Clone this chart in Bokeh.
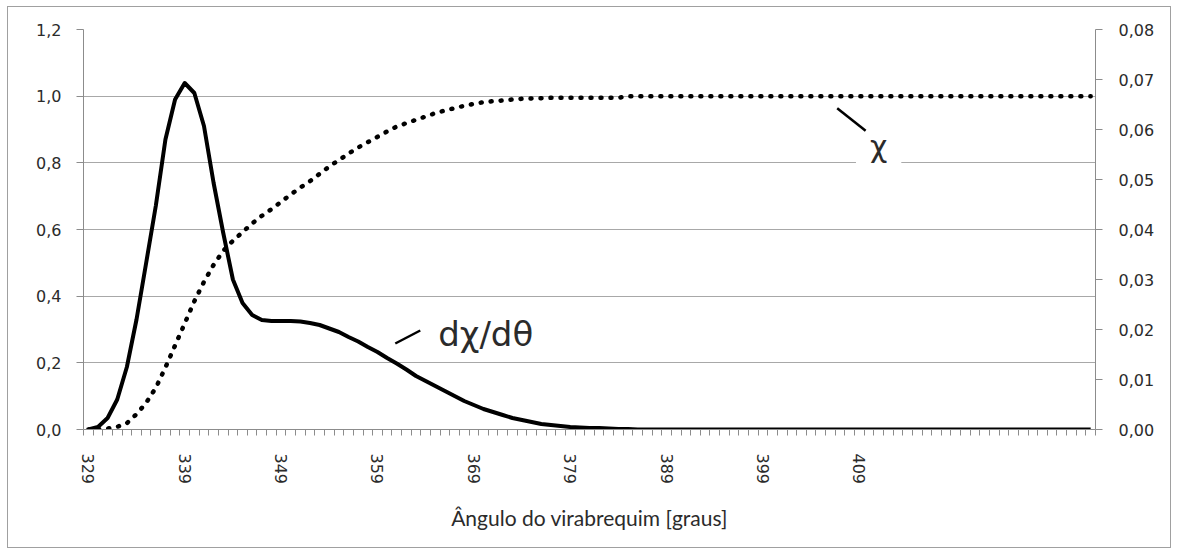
from bokeh.plotting import figure
from bokeh.models import (Range1d, LinearAxis, FixedTicker, CustomJSTickFormatter, Label)
from bokeh.embed import file_html
from bokeh.resources import INLINE

# Crank angle [degrees], one sample per degree
angles = list(range(329, 434))

# Burn rate dchi/dtheta [1/degree] (right axis)
burn_rate = [
    0.0000, 0.0005, 0.0023, 0.0060, 0.0125, 0.0220, 0.0333, 0.0447, 0.0580, 0.0660,
    0.0693, 0.0673, 0.0607, 0.0493, 0.0393, 0.0300, 0.0253, 0.0229, 0.0219, 0.0217,
    0.0217, 0.0217, 0.0216, 0.0213, 0.0209, 0.0202, 0.0195, 0.0185, 0.0176, 0.0165,
    0.0155, 0.0143, 0.0132, 0.0120, 0.0107, 0.0097, 0.0087, 0.0077, 0.0067, 0.0057,
    0.0049, 0.0041, 0.0035, 0.0029, 0.0023, 0.0019, 0.0015, 0.0011, 0.0009, 0.0007,
    0.0005, 0.0004, 0.0003, 0.0003, 0.0002, 0.0001, 0.0001,
] + [0.0] * 48

# Burned mass fraction chi (left axis)
burned_fraction = [
    0.000, 0.000, 0.003, 0.008, 0.019, 0.046, 0.080, 0.125, 0.186, 0.252,
    0.318, 0.385, 0.443, 0.494, 0.536, 0.566, 0.592, 0.618, 0.641, 0.661,
    0.683, 0.705, 0.726, 0.745, 0.767, 0.789, 0.808, 0.828, 0.846, 0.862,
    0.878, 0.894, 0.909, 0.919, 0.929, 0.939, 0.949, 0.957, 0.964, 0.971,
    0.977, 0.982, 0.985, 0.987, 0.990, 0.992, 0.993, 0.994,
] + [0.995] * 8 + [1.000] * 49

# Axis tick values
angle_labels = [329, 339, 349, 359, 369, 379, 389, 399, 409]
fraction_ticks = [0.0, 0.2, 0.4, 0.6, 0.8, 1.0, 1.2]
rate_ticks = [0.00, 0.01, 0.02, 0.03, 0.04, 0.05, 0.06, 0.07, 0.08]

AXIS_GREY = "#8c8c8c"
GRID_GREY = "#a8a8a8"
TEXT = "#2b2b2b"
TICK_FONT = "DejaVu Sans"

p = figure(width=1164, height=542, output_backend="svg", toolbar_location=None,
           x_range=Range1d(angles[0] - 0.5, angles[-1] + 0.5),
           y_range=Range1d(0, 1.2),
           min_border_left=75, min_border_right=77,
           min_border_top=22, min_border_bottom=120)
p.styles = {"border": "1px solid #a0a0a0", "margin-left": "7px", "margin-top": "6px"}
p.outline_line_color = None
p.background_fill_color = "white"
p.border_fill_color = "white"
p.extra_y_ranges = {"rate": Range1d(0, 0.08)}

# x axis: a tick between every degree, labels every ten degrees
xa = p.xaxis[0]
xa.ticker = FixedTicker(ticks=angle_labels,
                        minor_ticks=[a - 0.5 for a in angles] + [angles[-1] + 0.5])
xa.major_tick_out = 0
xa.major_tick_in = 0
xa.minor_tick_out = 6
xa.minor_tick_in = 0
xa.minor_tick_line_color = AXIS_GREY
xa.axis_line_color = AXIS_GREY
xa.major_label_orientation = "vertical"
xa.major_label_standoff = 18
xa.major_label_text_font = TICK_FONT
xa.major_label_text_font_size = "16px"
xa.major_label_text_color = TEXT
xa.axis_label = "Ângulo do virabrequim [graus]"
xa.axis_label_text_font = "Lato"
xa.axis_label_text_font_size = "21px"
xa.axis_label_text_font_style = "normal"
xa.axis_label_text_color = TEXT
xa.axis_label_standoff = 18

# left axis: chi
ya = p.yaxis[0]
ya.ticker = FixedTicker(ticks=fraction_ticks)
ya.formatter = CustomJSTickFormatter(code="return tick.toFixed(1).replace('.', ',')")
ya.major_tick_out = 7
ya.major_tick_in = 0
ya.minor_tick_out = 0
ya.minor_tick_in = 0
ya.major_tick_line_color = AXIS_GREY
ya.axis_line_color = AXIS_GREY
ya.major_label_standoff = 15
ya.major_label_text_font = TICK_FONT
ya.major_label_text_font_size = "16px"
ya.major_label_text_color = TEXT

# right axis: dchi/dtheta
ra = LinearAxis(y_range_name="rate")
ra.ticker = FixedTicker(ticks=rate_ticks)
ra.formatter = CustomJSTickFormatter(code="return tick.toFixed(2).replace('.', ',')")
ra.major_tick_out = 7
ra.major_tick_in = 0
ra.minor_tick_out = 0
ra.minor_tick_in = 0
ra.major_tick_line_color = AXIS_GREY
ra.axis_line_color = AXIS_GREY
ra.major_label_standoff = 16
ra.major_label_text_font = TICK_FONT
ra.major_label_text_font_size = "16px"
ra.major_label_text_color = TEXT
p.add_layout(ra, "right")

p.xgrid.visible = False
p.ygrid.ticker = FixedTicker(ticks=fraction_ticks)
p.ygrid.grid_line_color = GRID_GREY
p.ygrid.grid_line_width = 1

# curves
p.line(angles, burn_rate, y_range_name="rate", line_color="black", line_width=4,
       line_join="round")
p.line(angles, burned_fraction, line_color="black", line_width=4.5,
       line_dash="1 9", line_cap="round")

# curve labels with leader lines
p.add_layout(Label(x=365.3, y=0.287, text="dχ/dθ", text_font="DejaVu Sans",
                   text_font_size="34px", text_color=TEXT, text_baseline="middle"))
p.add_layout(Label(x=411.0, y=0.85, text="χ", text_font="DejaVu Sans",
                   text_font_size="30px", text_color=TEXT, text_align="center",
                   text_baseline="middle", background_fill_color="white", padding=14))
p.segment(x0=[360.85, 406.7], y0=[0.258, 0.964], x1=[363.44, 409.65], y1=[0.297, 0.896],
          line_color="black", line_width=2.5, level="overlay")

open("out.html", "w").write(file_html(p, INLINE))
